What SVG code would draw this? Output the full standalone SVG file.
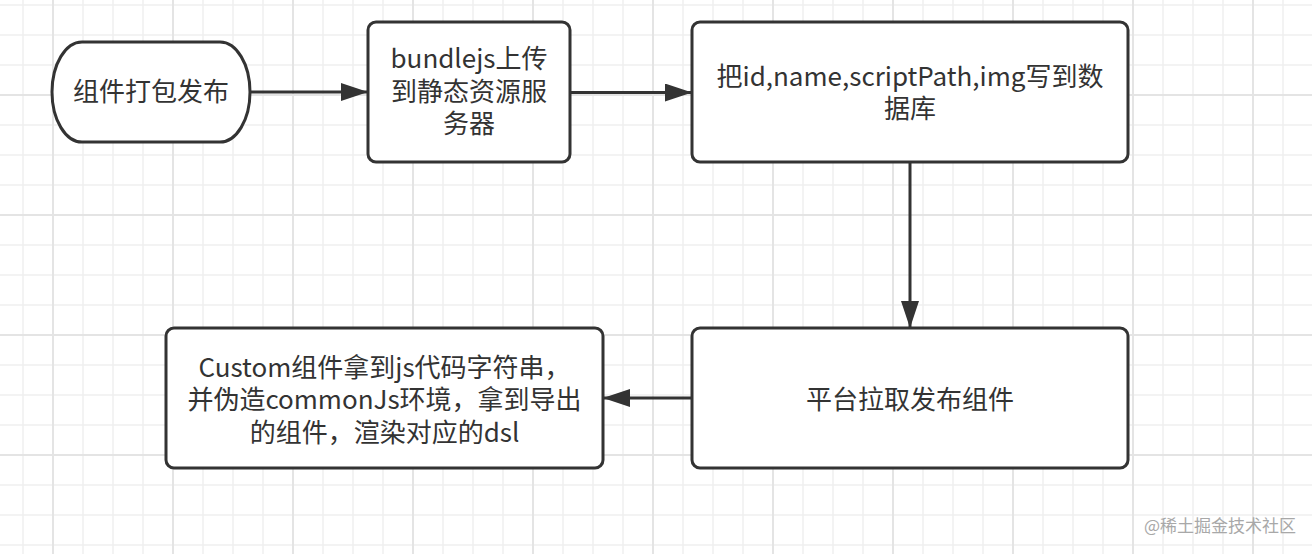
<svg xmlns="http://www.w3.org/2000/svg" width="1312" height="554" viewBox="0 0 1312 554">
  <style>
    .box { fill: #ffffff; stroke: #333333; stroke-width: 3; }
    .lbl { font-family: "Noto Sans CJK SC", "Noto Sans", sans-serif; font-size: 26px; fill: #333333; text-anchor: middle; }
    .edge { fill: none; stroke: #333333; stroke-width: 3; }
    .wm { font-family: "Noto Sans CJK SC", "Noto Sans", sans-serif; font-size: 17px; fill: #a8a8a8; text-anchor: end; }
  </style>
  <defs>
    <pattern id="gridThin" patternUnits="userSpaceOnUse" x="8" y="-10" width="30" height="30">
      <path d="M15,0 V30 M0,15 H30" stroke="#efefef" stroke-width="1.5" fill="none"/>
    </pattern>
    <pattern id="gridThick" patternUnits="userSpaceOnUse" x="-7" y="35" width="120" height="120">
      <path d="M60,0 V120 M0,60 H120" stroke="#e4e4e4" stroke-width="2" fill="none"/>
    </pattern>
    <marker id="arrow" markerUnits="userSpaceOnUse" markerWidth="28" markerHeight="18" refX="27" refY="9" orient="auto">
      <path d="M0,0 L27,9 L0,18 Z" fill="#333333"/>
    </marker>
  </defs>

  <rect width="1312" height="554" fill="#ffffff"/>
  <rect width="1312" height="554" fill="url(#gridThin)"/>
  <rect width="1312" height="554" fill="url(#gridThick)"/>

  <g id="connectors">
    <path class="edge" d="M250,92 H368" marker-end="url(#arrow)"/>
    <path class="edge" d="M570,92.5 H692" marker-end="url(#arrow)"/>
    <path class="edge" d="M910,162 V328" marker-end="url(#arrow)"/>
    <path class="edge" d="M692,398 H603" marker-end="url(#arrow)"/>
  </g>

  <g id="node-pack">
    <rect class="box" x="52" y="42" width="198" height="100" rx="30" ry="50"/>
    <text class="lbl" x="151" y="101">组件打包发布</text>
  </g>

  <g id="node-upload">
    <rect class="box" x="368" y="22" width="202" height="140" rx="8" ry="8"/>
    <text class="lbl" x="469" y="68"><tspan x="469" y="68">bundlejs上传</tspan><tspan x="469" y="100.5">到静态资源服</tspan><tspan x="469" y="133">务器</tspan></text>
  </g>

  <g id="node-db">
    <rect class="box" x="692" y="22" width="436" height="140" rx="8" ry="8"/>
    <text class="lbl" x="910" y="85.5"><tspan x="910" y="85.5">把id,name,scriptPath,img写到数</tspan><tspan x="910" y="118">据库</tspan></text>
  </g>

  <g id="node-fetch">
    <rect class="box" x="692" y="328" width="436" height="140" rx="8" ry="8"/>
    <text class="lbl" x="910" y="409">平台拉取发布组件</text>
  </g>

  <g id="node-render">
    <rect class="box" x="166" y="328" width="437" height="140" rx="8" ry="8"/>
    <text class="lbl" x="384.5" y="376.5"><tspan x="384.5" y="376.5">Custom组件拿到js代码字符串，</tspan><tspan x="384.5" y="409">并伪造commonJs环境，拿到导出</tspan><tspan x="384.5" y="441.5">的组件，渲染对应的dsl</tspan></text>
  </g>

  <text class="wm" x="1296" y="532">@稀土掘金技术社区</text>
</svg>
